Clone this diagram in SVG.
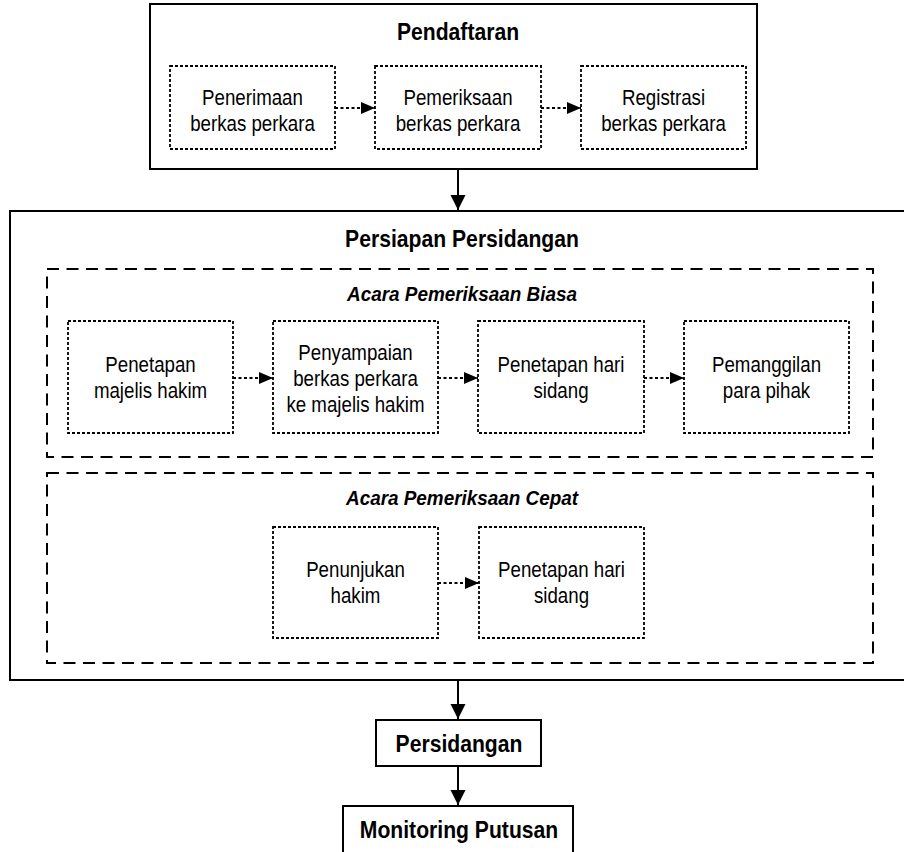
<svg xmlns="http://www.w3.org/2000/svg" width="904" height="852" viewBox="0 0 904 852">
  <defs>
    <style>
      .solid { fill: #fff; stroke: #000; stroke-width: 2; }
      .group { fill: none; stroke: #000; stroke-width: 2; stroke-dasharray: 12 7.5; }
      .step { fill: #fff; stroke: #000; stroke-width: 1.8; stroke-dasharray: 3 2; }
      .flow { fill: none; stroke: #000; stroke-width: 2; }
      .dflow { fill: none; stroke: #000; stroke-width: 2; stroke-dasharray: 3 2.5; }
      text { font-family: "Liberation Sans", Arial, sans-serif; fill: #000; text-anchor: middle; }
      .t { font-size: 22px; }
      .h { font-size: 23px; font-weight: bold; }
      .hi { font-size: 20px; font-weight: bold; font-style: italic; }
    </style>
    <marker id="ah" markerUnits="userSpaceOnUse" markerWidth="16" markerHeight="16" refX="15" refY="7.5" orient="auto">
      <path d="M0,0 L15,7.5 L0,15 Z" fill="#000"/>
    </marker>
    <marker id="dah" markerUnits="userSpaceOnUse" markerWidth="15" markerHeight="13" refX="14" refY="6" orient="auto">
      <path d="M0,0 L14,6 L0,12 Z" fill="#000"/>
    </marker>
  </defs>

  <!-- Pendaftaran stage -->
  <g id="pendaftaran">
    <rect class="solid" x="150" y="4" width="607" height="165"/>
    <text class="h" transform="translate(458 40) scale(0.92 1)">Pendaftaran</text>
  </g>
  <g id="penerimaan">
    <rect class="step" x="170" y="66" width="165" height="83"/>
    <text class="t" transform="translate(252.5 0) scale(0.85 1)"><tspan x="0" y="105">Penerimaan</tspan><tspan x="0" y="131">berkas perkara</tspan></text>
  </g>
  <g id="pemeriksaan">
    <rect class="step" x="375" y="66" width="166" height="83"/>
    <text class="t" transform="translate(458 0) scale(0.85 1)"><tspan x="0" y="105">Pemeriksaan</tspan><tspan x="0" y="131">berkas perkara</tspan></text>
  </g>
  <g id="registrasi">
    <rect class="step" x="581" y="66" width="165" height="83"/>
    <text class="t" transform="translate(663.5 0) scale(0.85 1)"><tspan x="0" y="105">Registrasi</tspan><tspan x="0" y="131">berkas perkara</tspan></text>
  </g>

  <!-- Persiapan Persidangan stage -->
  <g id="persiapan">
    <rect class="solid" x="10" y="211" width="910" height="469"/>
    <text class="h" transform="translate(462 247) scale(0.92 1)">Persiapan Persidangan</text>
  </g>

  <g id="acara-biasa">
    <rect class="group" x="47" y="269" width="826" height="188"/>
    <text class="hi" transform="translate(462 301) scale(0.945 1)">Acara Pemeriksaan Biasa</text>
  </g>
  <g id="penetapan-majelis">
    <rect class="step" x="68" y="321" width="165" height="112"/>
    <text class="t" transform="translate(150.5 0) scale(0.85 1)"><tspan x="0" y="372">Penetapan</tspan><tspan x="0" y="398">majelis hakim</tspan></text>
  </g>
  <g id="penyampaian">
    <rect class="step" x="273" y="321" width="165" height="112"/>
    <text class="t" transform="translate(355.5 0) scale(0.85 1)"><tspan x="0" y="360">Penyampaian</tspan><tspan x="0" y="386">berkas perkara</tspan><tspan x="0" y="412">ke majelis hakim</tspan></text>
  </g>
  <g id="penetapan-hari-biasa">
    <rect class="step" x="478" y="321" width="166" height="112"/>
    <text class="t" transform="translate(561 0) scale(0.85 1)"><tspan x="0" y="372">Penetapan hari</tspan><tspan x="0" y="398">sidang</tspan></text>
  </g>
  <g id="pemanggilan">
    <rect class="step" x="684" y="321" width="165" height="112"/>
    <text class="t" transform="translate(766.5 0) scale(0.85 1)"><tspan x="0" y="372">Pemanggilan</tspan><tspan x="0" y="398">para pihak</tspan></text>
  </g>

  <g id="acara-cepat">
    <rect class="group" x="47" y="473" width="826" height="190"/>
    <text class="hi" transform="translate(462 505) scale(0.945 1)">Acara Pemeriksaan Cepat</text>
  </g>
  <g id="penunjukan">
    <rect class="step" x="273" y="527" width="165" height="111"/>
    <text class="t" transform="translate(355.5 0) scale(0.85 1)"><tspan x="0" y="577">Penunjukan</tspan><tspan x="0" y="603">hakim</tspan></text>
  </g>
  <g id="penetapan-hari-cepat">
    <rect class="step" x="479" y="527" width="165" height="111"/>
    <text class="t" transform="translate(561.5 0) scale(0.85 1)"><tspan x="0" y="577">Penetapan hari</tspan><tspan x="0" y="603">sidang</tspan></text>
  </g>

  <!-- Persidangan and Monitoring -->
  <g id="persidangan">
    <rect class="solid" x="376" y="720" width="165" height="46"/>
    <text class="h" transform="translate(459 752) scale(0.92 1)">Persidangan</text>
  </g>
  <g id="monitoring">
    <rect class="solid" x="343" y="806" width="230" height="60"/>
    <text class="h" transform="translate(459 838) scale(0.92 1)">Monitoring Putusan</text>
  </g>

  <!-- Connectors -->
  <g id="connectors">
    <line class="dflow" x1="335" y1="108" x2="375" y2="108" marker-end="url(#dah)"/>
    <line class="dflow" x1="541" y1="108" x2="581" y2="108" marker-end="url(#dah)"/>
    <line class="dflow" x1="233" y1="378" x2="273" y2="378" marker-end="url(#dah)"/>
    <line class="dflow" x1="438" y1="378" x2="478" y2="378" marker-end="url(#dah)"/>
    <line class="dflow" x1="644" y1="378" x2="684" y2="378" marker-end="url(#dah)"/>
    <line class="dflow" x1="438" y1="583" x2="479" y2="583" marker-end="url(#dah)"/>
    <line class="flow" x1="458" y1="170" x2="458" y2="210" marker-end="url(#ah)"/>
    <line class="flow" x1="458" y1="681" x2="458" y2="719" marker-end="url(#ah)"/>
    <line class="flow" x1="458" y1="767" x2="458" y2="805" marker-end="url(#ah)"/>
  </g>
</svg>
